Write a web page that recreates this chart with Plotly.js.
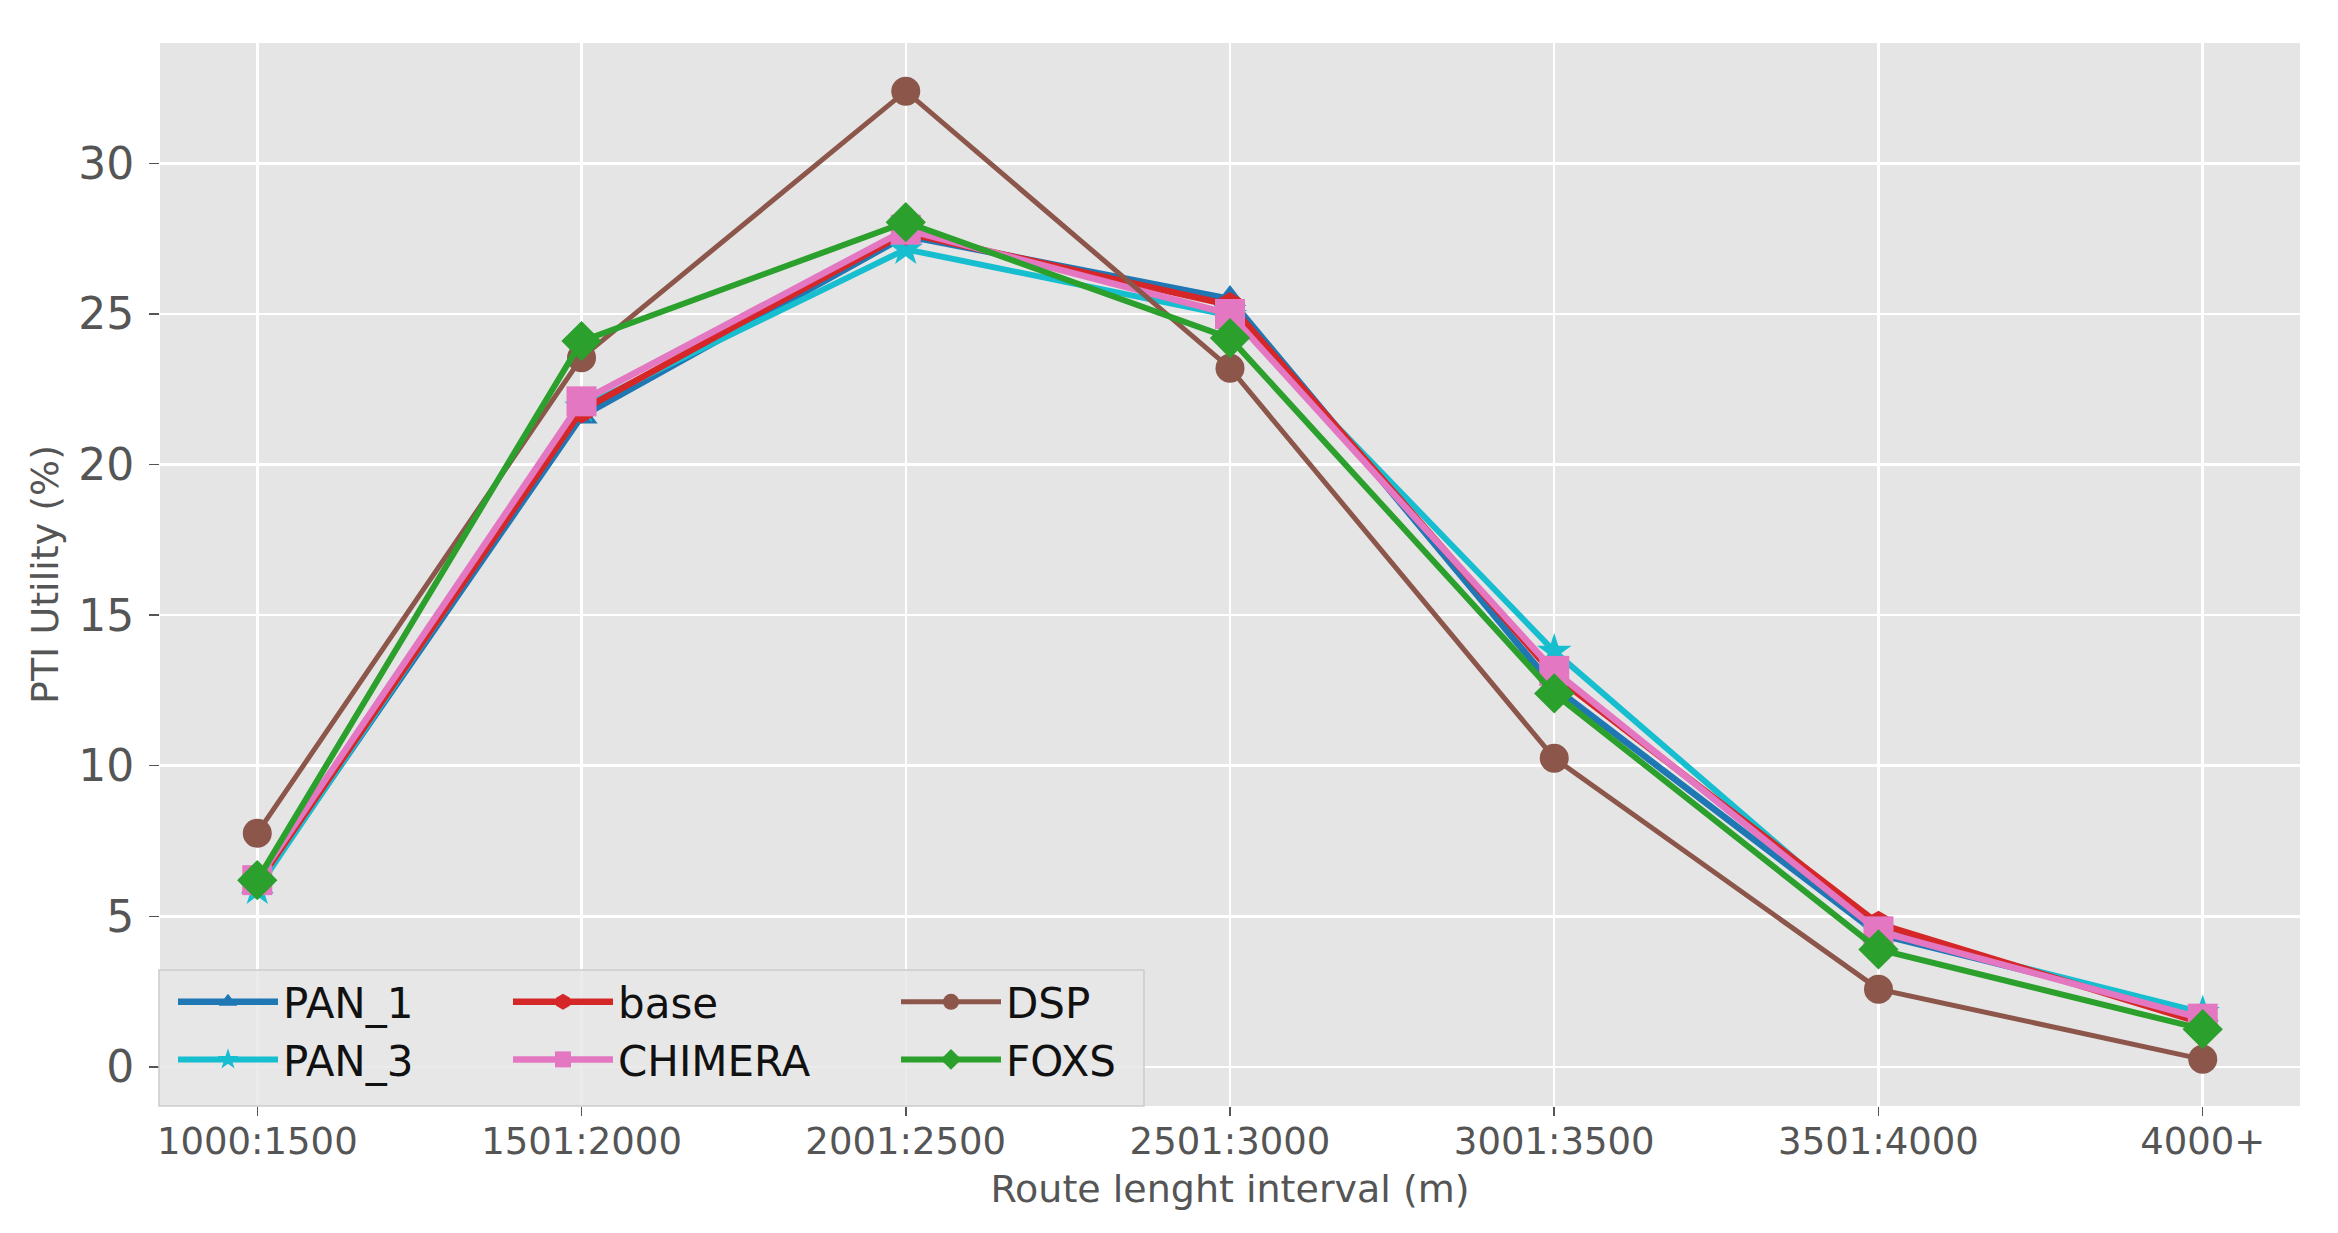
<!DOCTYPE html>
<html>
<head>
<meta charset="utf-8">
<script src="https://cdn.plot.ly/plotly-3.0.1.min.js"></script>
<style>html,body{margin:0;padding:0;background:#fff;}#chart{width:2338px;height:1233px;}</style>
</head>
<body>
<div id="chart"></div>
<script>
const categories = ['1000:1500','1501:2000','2001:2500','2501:3000','3001:3500','3501:4000','4000+'];
const PAN_1   = [6.0, 21.6, 27.6, 25.5, 12.6, 4.4, 1.75];
const PAN_3   = [5.9, 21.9, 27.15, 24.95, 13.8, 4.5, 1.8];
const base    = [6.1, 21.8, 27.7, 25.3, 13.0, 4.75, 1.45];
const CHIMERA = [6.2, 22.1, 27.8, 25.0, 13.15, 4.5, 1.6];
const DSP     = [7.76, 23.55, 32.4, 23.2, 10.25, 2.58, 0.25];
const FOXS    = [6.2, 24.1, 28.05, 24.2, 12.4, 3.9, 1.25];
const yTicks = [0, 5, 10, 15, 20, 25, 30];

function tr(name, y, color, symbol, msize, lw, legend) {
  return {
    x: categories, y: y, name: name, type: 'scatter', mode: 'lines+markers',
    line: {color: color, width: lw},
    marker: {color: color, symbol: symbol, size: msize, line: {width: 0}},
    legend: legend
  };
}
const data = [
  tr('PAN_1', PAN_1, '#1f77b4', 'triangle-up', 28, 6.5, 'legend'),
  tr('PAN_3', PAN_3, '#17becf', 'star', 26, 6, 'legend'),
  tr('base', base, '#d62728', 'hexagon', 26, 6.5, 'legend2'),
  tr('CHIMERA', CHIMERA, '#e377c2', 'square', 30, 6.5, 'legend2'),
  tr('DSP', DSP, '#8c564b', 'circle', 29, 5, 'legend3'),
  tr('FOXS', FOXS, '#2ca02c', 'diamond', 31, 6, 'legend3')
];

const W = 2338, H = 1233, L = 160, R = 38, T = 43, B = 127;
const pw = W - L - R, ph = H - T - B;
const px = v => (v - L) / pw;
const py = v => (H - B - v) / ph;

const legFont = {family: 'DejaVu Sans, sans-serif', size: 42, color: '#111'};
function leg(xpx) {
  return {x: px(xpx), xanchor: 'left', y: py(1031), yanchor: 'middle', orientation: 'v',
    bgcolor: 'rgba(0,0,0,0)', borderwidth: 0, font: legFont, itemwidth: 100, tracegroupgap: 0};
}

const layout = {
  width: W, height: H,
  margin: {l: L, r: R, t: T, b: B},
  paper_bgcolor: '#ffffff',
  plot_bgcolor: '#e5e5e5',
  showlegend: true,
  xaxis: {
    type: 'category', range: [-0.3, 6.3],
    showgrid: true, gridcolor: '#ffffff', gridwidth: 2.5,
    zeroline: false, showline: false,
    ticks: 'outside', ticklen: 9, tickwidth: 1.5, tickcolor: '#555555',
    ticklabelstandoff: -6,
    tickfont: {family: 'DejaVu Sans, sans-serif', size: 37, color: '#555555'},
    title: {text: 'Route lenght interval (m)', font: {family: 'DejaVu Sans, sans-serif', size: 38, color: '#555555'}, standoff: 12},
    automargin: false
  },
  yaxis: {
    range: [-1.3, 34.0], tickvals: yTicks, ticktext: yTicks.map(String),
    showgrid: true, gridcolor: '#ffffff', gridwidth: 2.5,
    zeroline: false, showline: false,
    ticks: 'outside', ticklen: 10, tickwidth: 1.5, tickcolor: '#555555',
    ticklabelstandoff: 6,
    tickfont: {family: 'DejaVu Sans, sans-serif', size: 44, color: '#555555'},
    title: {text: 'PTI Utility (%)', font: {family: 'DejaVu Sans, sans-serif', size: 38, color: '#555555'}, standoff: 7},
    automargin: false
  },
  legend: leg(173),
  legend2: leg(508),
  legend3: leg(896),
  shapes: [{
    type: 'rect', xref: 'paper', yref: 'paper', layer: 'above',
    x0: px(159), x1: px(1144), y0: py(1106), y1: py(970),
    fillcolor: 'rgba(232,232,232,0.85)', line: {color: 'rgba(204,204,204,1)', width: 1.5}
  }]
};

Plotly.newPlot('chart', data, layout, {displayModeBar: false, staticPlot: true});
</script>
</body>
</html>
